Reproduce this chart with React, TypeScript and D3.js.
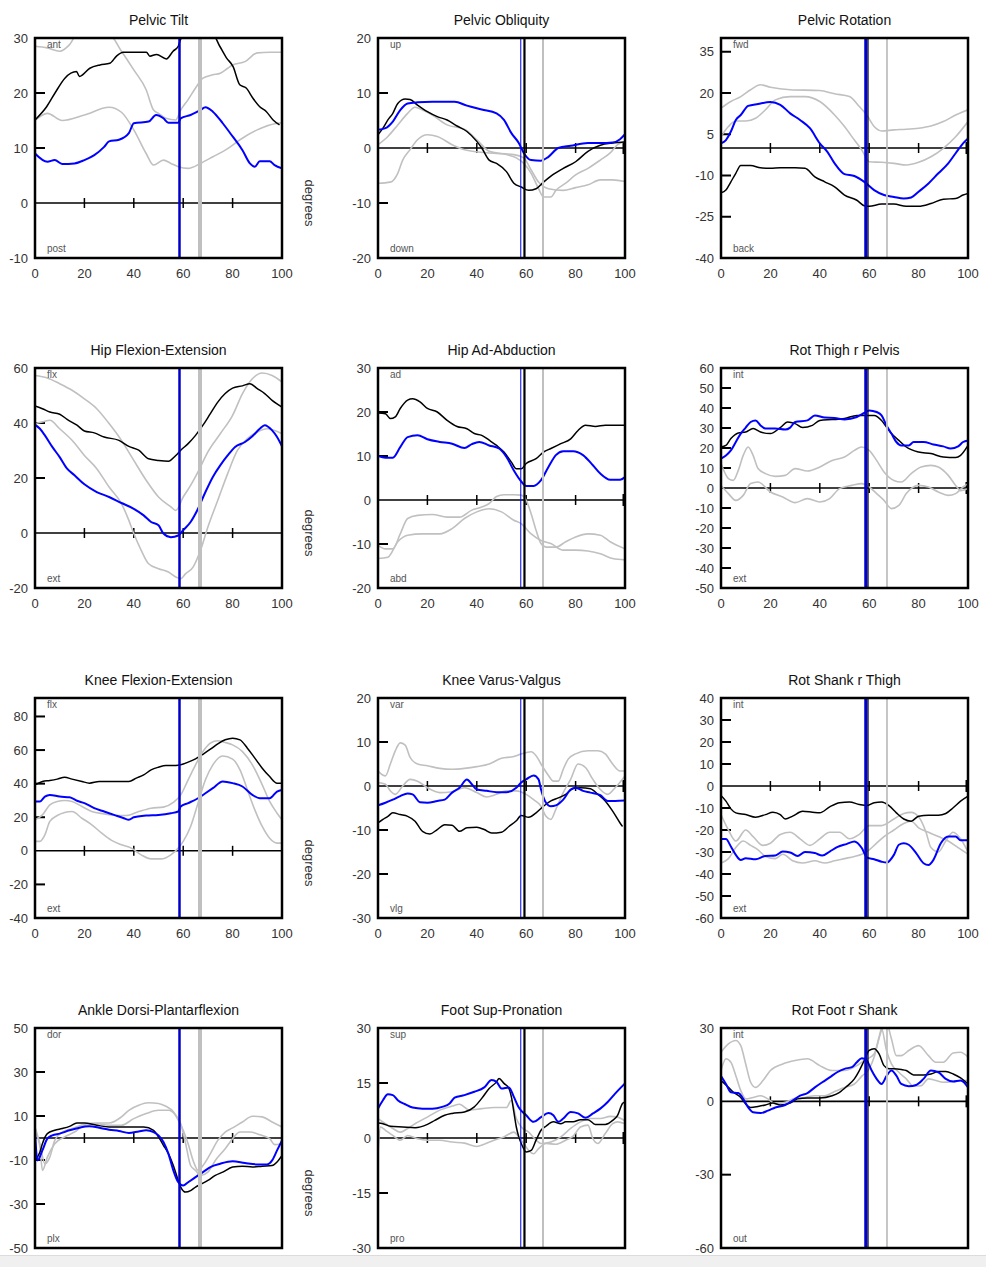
import React, { useRef, useEffect } from 'react';
import * as d3 from 'd3';

type Pt = [number, number];

// black = left side, blue = right side, two gray curves = normal band
const pelvicTiltL: Pt[] = [[0,15.1],[4.7,17.5],[8.1,20],[12.1,22.7],[16.8,23.9],[18,23],[22.2,24.5],[26.3,25.1],[30.3,25.4],[33,26.7],[35.7,27.4],[45.1,27.4],[46.5,26.7],[49.2,27],[53.2,26.2],[55.9,27.6],[58,28.5],[59,29.8],[61,30.6],[72,30.6],[74.8,28.5],[77.5,26.4],[80.2,24.8],[82.9,21.5],[85.5,20.9],[88.3,19],[91,17.5],[93.7,16.6],[96.4,15.1],[99,14.2]];
const pelvicTiltR: Pt[] = [[0,9],[5,7.5],[8,7.8],[11,7.1],[16,7.2],[20,7.8],[24,8.7],[28,10.2],[30,11.2],[34,11.5],[38,12.7],[40,14.5],[46,14.8],[49,16],[52,15.4],[54,14.6],[58,14.6],[59,15.4],[63,16],[67,16.9],[69,17.4],[72,16.6],[76,14.5],[80,12.1],[84,9.6],[87,7.2],[89,6.6],[91,7.6],[95,7.6],[97,6.9],[100,6.3]];
const pelvicTiltNormHi: Pt[] = [[0,28.5],[5,28.2],[10,27.6],[14,28.8],[17,30.6],[30,30.6],[35,27.6],[40,24.2],[45,20.6],[48,16.9],[50,16.3],[53,15.4],[57,15.1],[59,16.9],[62,18.8],[65,20.9],[68,22.7],[72,23.3],[75,23.6],[78,24.5],[80,25.1],[85,25.7],[90,27.3],[95,27.4],[100,27.4]];
const pelvicTiltNormLo: Pt[] = [[0,15],[5,16.3],[11,15],[20,16],[30,17.4],[35,16.5],[40,13.3],[45,9],[48,6.9],[52,7.8],[55,7.2],[58,6.6],[62,6.3],[67,7.2],[72,8.4],[78,9.9],[83,11.5],[90,13.3],[95,14.2],[100,14.6]];

const obliquityL: Pt[] = [[0,2.4],[2,3.6],[4,5.1],[6,6.3],[8,8.1],[11,8.9],[13,8.8],[16,7.8],[20,6.6],[24,5.7],[28,5.1],[32,4],[36,3],[40,1.2],[42,0],[45,-2.2],[48,-2.8],[52,-4.3],[55,-6.4],[58,-7.1],[61,-7.7],[64,-7.4],[67,-6.2],[70,-5.1],[75,-3.7],[80,-2.5],[85,-0.6],[90,0.5],[95,0.9],[100,1.1]];
const obliquityR: Pt[] = [[0,3.3],[3,3.6],[6,4.8],[9,6.9],[12,8.1],[16,8.3],[22,8.4],[31,8.4],[36,7.7],[42,7],[48,6.3],[51,5.1],[54,2.7],[57,0.9],[59,-0.9],[62,-2.2],[66,-2.3],[69,-1.6],[73,0],[78,0.4],[85,0.9],[90,0.9],[95,1],[98,1.6],[100,2.5]];
const obliquityNormHi: Pt[] = [[0,0.6],[4,2.1],[8,4.2],[12,6.3],[15,7.4],[18,6.9],[22,6],[28,4.2],[35,3.4],[40,1.5],[45,-0.6],[52,-1.2],[56,-1.8],[59,-2.8],[62,-4.6],[65,-7.4],[67,-8.9],[70,-8.9],[72,-7.7],[76,-6.4],[80,-4.9],[85,-3.7],[90,-2.2],[94,-0.9],[97,0.6],[100,1.2]];
const obliquityNormLo: Pt[] = [[0,-6.4],[5,-6.2],[8,-4.6],[10,-2.2],[13,-0.3],[16,1.5],[20,2.4],[24,2.1],[30,0.6],[35,-0.3],[45,-0.9],[55,-1.2],[59,-1.8],[62,-4],[65,-6.2],[69,-7.4],[75,-7.7],[80,-7.2],[85,-6.7],[90,-5.8],[95,-5.8],[100,-6.1]];

const rotationL: Pt[] = [[0,-16.3],[2,-15.3],[4,-12.3],[6,-9.2],[8,-6.4],[12,-6.4],[16,-7.2],[20,-7.4],[24,-7.2],[30,-7.2],[34,-7.4],[38,-10.5],[42,-12.3],[46,-14.1],[50,-17.1],[55,-19],[58,-21],[60,-21.2],[65,-20.4],[70,-20.4],[75,-21.2],[80,-21.2],[85,-20.2],[90,-18.6],[95,-18.4],[98,-17.1],[100,-16.5]];
const rotationR: Pt[] = [[0,1.7],[2,2.9],[4,6],[6,10.2],[8,12],[11,15.3],[15,16],[20,16.7],[24,15.7],[28,12.6],[32,10.2],[36,7.2],[40,1.7],[43,-1.3],[46,-5.6],[50,-9.5],[54,-10.2],[58,-12.3],[62,-15.3],[66,-17.1],[70,-17.8],[74,-18.4],[77,-18],[80,-15.9],[84,-12.9],[88,-9.2],[92,-5.6],[95,-1.9],[98,1.7],[100,3.5]];
const rotationNormHi: Pt[] = [[0,14.5],[4,16.9],[8,18.7],[12,21.2],[16,23],[20,22.1],[28,21.2],[40,20.9],[46,19.7],[52,18.7],[56,15.1],[59,12],[62,7.8],[65,6.2],[70,6.6],[75,6.8],[80,7.2],[85,8],[90,9.6],[95,12],[100,13.9]];
const rotationNormLo: Pt[] = [[0,4.1],[3,7.8],[6,9.8],[10,9.8],[14,10.8],[18,13.9],[22,17.5],[28,18.7],[34,18.7],[40,16.9],[46,12],[50,7.8],[54,2.9],[57,-0.7],[60,-5],[65,-5.2],[70,-5.6],[75,-6.2],[80,-5.2],[85,-3.2],[90,-0.1],[95,4.1],[100,9.6]];

const hipFlexL: Pt[] = [[0,46.2],[3,45.2],[6,44],[10,43.2],[13,41.3],[17,39.2],[20,37.1],[24,36.4],[28,34.9],[34,33.7],[38,31.5],[42,30.1],[46,27],[50,26.4],[54,26.1],[57,28.2],[59,30.1],[62,32.5],[65,35.5],[68,39.2],[71,43.4],[74,47.6],[77,50.7],[80,52.7],[84,53.5],[87,54.3],[90,52.5],[93,50.7],[96,48.2],[100,45.8]];
const hipFlexR: Pt[] = [[0,39.4],[2,37.9],[4,35.5],[7,31.3],[10,27.6],[13,23.4],[16,21],[20,17.7],[25,14.9],[30,13.1],[35,10.9],[40,8.8],[44,6.4],[47,4],[50,2.8],[52,-0.2],[55,-1.5],[58,-0.9],[60,1],[63,4],[66,8.8],[69,14.9],[72,20.4],[75,24.6],[78,28.2],[81,31.3],[85,33.1],[88,35.2],[91,37.9],[93,39.2],[96,37.3],[98,34.9],[100,31.5]];
const hipFlexNormHi: Pt[] = [[0,57.3],[5,56.4],[10,54.3],[15,51.9],[20,48.8],[25,45.2],[30,39.8],[35,33.7],[40,26.4],[45,19.2],[50,13.1],[55,9.5],[57,8.2],[60,13.1],[63,17.3],[66,22.2],[70,29.5],[75,36.1],[80,42.8],[84,50.7],[88,56.1],[92,58.2],[96,57.3],[100,54.9]];
const hipFlexNormLo: Pt[] = [[0,39.8],[3,40.4],[6,41],[10,37.9],[15,33.7],[20,28.2],[25,23.4],[30,16.7],[35,10.7],[38,4.6],[40,-0.2],[43,-6.3],[46,-11.2],[50,-13],[54,-14.2],[57,-16],[59,-16.6],[61,-14.8],[64,-12.4],[67,-6.3],[70,2.2],[74,11.9],[78,21.6],[82,30.1],[86,34.3],[90,36.7],[94,37.9],[100,36.1]];

const hipAbdL: Pt[] = [[0,19.8],[3,19.6],[5,18.5],[7,18.9],[9,20.8],[12,22.7],[14,23],[17,22.3],[20,20.8],[24,20],[28,18.1],[32,16.7],[36,16.2],[39,15.1],[42,14.7],[45,13.6],[48,12.4],[51,10.9],[54,8.6],[56,7.1],[58,7.1],[60,8.3],[64,9.4],[67,10.9],[70,11.7],[74,12.8],[78,13.9],[81,15.8],[84,17],[88,16.7],[92,17],[100,17]];
const hipAbdR: Pt[] = [[0,10],[3,9.6],[6,9.6],[9,12],[12,14.3],[16,14.7],[20,13.8],[25,13.2],[30,12.8],[35,11.8],[38,12.7],[41,13.2],[45,12.4],[49,11.7],[52,9.8],[55,6.7],[58,4.2],[60,3.2],[63,3.2],[66,4.5],[69,7.5],[72,10.2],[75,11.1],[79,11.1],[83,10.2],[87,7.9],[90,6],[94,4.6],[98,4.6],[100,5.2]];
const hipAbdNormHi: Pt[] = [[0,-10.3],[3,-11.1],[6,-11.1],[9,-7.7],[12,-4.2],[16,-3.5],[22,-3.3],[28,-3.9],[33,-3.9],[38,-2.3],[42,-1.6],[45,-0.8],[48,0.8],[51,1.2],[55,1.2],[58,1.1],[60,-0.1],[62,-3.1],[64,-6.9],[66,-9.9],[68,-10.7],[72,-10.7],[76,-9.5],[80,-8.4],[85,-7.7],[90,-8],[94,-9.5],[100,-11.1]];
const hipAbdNormLo: Pt[] = [[0,-13.3],[4,-13],[8,-9.5],[12,-8],[18,-7.7],[25,-7.7],[30,-6.5],[35,-4.2],[40,-2.7],[45,-2],[50,-2.7],[55,-4.6],[58,-5.4],[62,-7.7],[66,-9.2],[70,-9.9],[75,-11.4],[80,-11.4],[85,-11.6],[90,-12.2],[95,-13.3],[100,-13.6]];

const thighRotL: Pt[] = [[0,20.5],[2,21.3],[4,24.7],[7,27.5],[10,28],[13,29.7],[16,28],[20,27.2],[24,30.2],[27,33],[30,32.2],[33,30.2],[37,31.3],[40,33.8],[45,34.2],[50,34.7],[55,36.3],[58,36.3],[62,36.3],[65,33.8],[67,30.5],[69,27.2],[72,23.8],[75,20.5],[80,18],[85,17.2],[90,15.5],[95,15.2],[97,16.3],[100,21.3]];
const thighRotR: Pt[] = [[0,14.7],[2,16.3],[4,18.8],[6,23],[8,27.2],[10,30.2],[12,33],[14,33.8],[16,31.3],[18,29.7],[22,29.7],[26,29.2],[28,30.2],[30,33],[35,33.8],[38,36.3],[42,35.2],[46,35],[50,34.3],[55,35.5],[58,37.5],[60,38.8],[63,38],[65,36.3],[67,31.3],[69,27.2],[71,23],[73,21.3],[76,21.3],[78,23],[82,23],[86,21.8],[90,20.8],[93,19.7],[96,20.8],[98,23],[100,23.8]];
const thighRotNormHi: Pt[] = [[0,12.2],[3,4.7],[5,3.8],[7,8.8],[9,16.3],[11,20.5],[13,16.3],[15,9.7],[18,7.2],[22,5.8],[26,6.3],[30,9.7],[35,8.5],[40,10.5],[45,13.8],[50,15.5],[54,18.8],[57,20.5],[60,18.8],[63,13.8],[66,8],[70,3.8],[73,3],[77,7.2],[81,10.5],[85,11.3],[88,10.5],[92,6.3],[95,1.3],[97,-1.3],[100,-0.3]];
const thighRotNormLo: Pt[] = [[0,1.3],[3,-2.8],[6,-6.2],[9,-3.7],[12,2.2],[15,3],[20,-2],[25,-4.5],[30,-7.3],[35,-5.3],[40,-7],[44,-5.3],[48,-0.3],[53,1.3],[57,2.2],[60,0.5],[63,-2.8],[66,-6.2],[69,-10.3],[72,-8.7],[75,-2.8],[80,1.3],[84,0.5],[88,-2],[92,-3.7],[95,-2.8],[98,0.5],[100,2.2]];

const kneeFlexL: Pt[] = [[0,39.3],[3,41.3],[6,41.9],[9,42.7],[12,43.8],[15,42.7],[19,41.3],[22,40.3],[26,41.3],[30,41.3],[38,41.3],[41,43.3],[44,45.2],[47,48.2],[50,49.8],[53,50.8],[57,50.8],[59,51.2],[62,52.8],[65,54.8],[68,57.5],[71,60.5],[74,63.7],[77,66.1],[80,67.1],[83,66.1],[86,61.1],[89,55.2],[92,49.2],[95,44.2],[98,40.3],[100,40.3]];
const kneeFlexR: Pt[] = [[0,29.4],[2,29.4],[4,32.3],[6,33.3],[10,32.3],[14,31.9],[17,29.8],[20,28.4],[24,25.4],[28,23.4],[32,21.4],[36,19.4],[38,18.5],[40,20],[45,21],[50,21.4],[55,22.4],[58,23.4],[59,26.4],[62,28.4],[66,31.3],[69,34.3],[72,37.3],[76,41.3],[80,40.3],[84,38.3],[88,33.3],[91,31.3],[95,31.3],[98,35.3],[100,36.3]];
const kneeFlexNormHi: Pt[] = [[0,18.5],[3,21.4],[6,27.4],[9,29.4],[12,30],[15,29.4],[19,26.4],[23,23.4],[28,22],[33,21],[37,21],[42,23.4],[47,25.4],[52,26],[56,28.8],[59,33.3],[62,42.3],[65,51.2],[68,59.1],[71,64.1],[74,65.5],[77,64.5],[80,63.1],[84,59.1],[88,51.2],[92,39.3],[95,29.4],[98,22.4],[100,18.5]];
const kneeFlexNormLo: Pt[] = [[0,5.6],[2,5.6],[4,9.5],[6,17.5],[9,21],[12,22.8],[15,23.4],[19,19.4],[23,15.5],[27,10.5],[31,6.2],[35,3.6],[39,1.6],[43,-2.4],[47,-4.8],[51,-4.8],[55,-2.4],[58,1.6],[60,5.6],[63,14.5],[66,28.4],[69,42.3],[72,51.2],[76,56.5],[80,54.6],[83,48.2],[86,36.3],[89,24.4],[92,14.5],[95,7.5],[98,4.6],[100,4.6]];

const varusL: Pt[] = [[0,-8.4],[2,-7.6],[4,-6.9],[6,-6.1],[9,-6.5],[12,-6.9],[15,-8],[18,-10.3],[21,-10.9],[24,-9.9],[27,-8.8],[30,-8.9],[33,-10.3],[36,-9.5],[40,-9.4],[43,-9.9],[46,-10.7],[50,-10.5],[53,-9.2],[56,-7.9],[58,-6.7],[61,-7.1],[64,-6.1],[67,-4.6],[70,-3.4],[73,-2.7],[76,-1.9],[79,-0.6],[82,-0.4],[86,-0.6],[89,-1.9],[92,-3.4],[95,-5.7],[98,-8.4],[99,-9.2]];
const varusR: Pt[] = [[0,-4.4],[3,-3.8],[6,-3.1],[9,-2.3],[12,-1.7],[14,-1.9],[17,-3.7],[20,-3.8],[24,-3.4],[27,-3.1],[30,-1.5],[33,-0.4],[36,1.5],[38,0.4],[40,-0.8],[44,-1.1],[48,-1.4],[52,-1.4],[56,-0.4],[58,0.8],[60,1.5],[63,2.4],[65,1.5],[66,-0.8],[68,-3.8],[70,-4.6],[72,-4.4],[75,-3.1],[78,-0.8],[80,-0.4],[83,-1.1],[86,-1.5],[90,-2.1],[93,-3.4],[96,-3.4],[100,-3.3]];
const varusNormHi: Pt[] = [[0,3.4],[3,2.3],[5,5],[7,8],[9,9.8],[11,9.3],[13,6.5],[16,5],[20,4.6],[25,4],[30,3.8],[35,4],[40,4.4],[45,5],[50,6.3],[55,6.7],[58,7.3],[62,7.8],[64,6.9],[66,5],[69,2.4],[71,1.1],[73,1.1],[75,3.8],[77,6.1],[80,7.3],[85,8],[89,8],[92,7.3],[95,5],[98,3.4],[100,3.4]];
const varusNormLo: Pt[] = [[0,0.8],[3,0.4],[5,-1.1],[7,-1.9],[10,0],[13,1.5],[16,1.1],[20,-0.4],[25,-1.5],[30,-1.3],[35,-0.4],[40,-1.5],[44,-2.5],[48,-1.9],[52,-1.1],[56,-1.1],[60,-1.9],[63,-3.1],[66,-4.6],[68,-6.9],[70,-7.6],[72,-5.3],[75,-1.5],[78,1.5],[81,5],[84,4.2],[87,1.5],[90,-0.8],[93,-1.9],[96,-0.4],[100,2.3]];

const shankRotL: Pt[] = [[0,-4.3],[2,-6.9],[4,-10.4],[6,-12.2],[10,-13],[14,-14.2],[18,-13],[21,-11.9],[24,-13],[26,-15],[29,-13.7],[33,-11.5],[37,-11.9],[40,-12.2],[44,-9.5],[48,-7.6],[52,-7.3],[56,-8.4],[59,-8.9],[62,-7.6],[65,-7.3],[68,-8.9],[71,-12.2],[74,-15],[77,-16],[80,-13.7],[84,-13.3],[88,-13.3],[91,-12.5],[94,-9.9],[97,-6.9],[100,-4.6]];
const shankRotR: Pt[] = [[0,-24.1],[2,-24.1],[4,-27.5],[6,-31.3],[8,-33.6],[10,-32.8],[14,-33.3],[18,-31.8],[22,-31.6],[25,-29.8],[28,-30.2],[31,-31.8],[34,-30],[38,-30.5],[41,-31.6],[44,-29.8],[47,-27.8],[51,-26.3],[54,-25.2],[57,-28.2],[59,-32.4],[62,-33.3],[65,-34.4],[67,-34.8],[70,-31.3],[72,-26.7],[74,-26],[76,-26.7],[79,-30.5],[82,-35.1],[84,-35.9],[86,-33.6],[89,-26],[92,-22.9],[95,-22.9],[97,-24.7],[100,-24.7]];
const shankRotNormHi: Pt[] = [[0,-13],[3,-20],[6,-25],[10,-20],[13,-23],[17,-27],[20,-26],[24,-22],[28,-21],[32,-24],[36,-27],[40,-24],[44,-21],[48,-21],[52,-24],[56,-22],[60,-18],[65,-18],[70,-15],[74,-12.5],[77,-12],[80,-14],[83,-21],[85,-28],[88,-30],[91,-25],[94,-21],[97,-24],[100,-30]];
const shankRotNormLo: Pt[] = [[0,-35],[3,-33],[6,-28],[9,-25],[12,-27],[15,-29],[18,-32],[22,-33],[25,-31],[29,-34],[33,-35],[38,-34],[42,-35],[46,-34],[50,-33],[54,-32],[57,-31],[60,-29],[63,-26],[66,-23],[70,-20],[74,-17],[77,-16],[80,-19],[84,-21],[88,-23],[92,-25],[96,-28],[100,-31]];

const ankleL: Pt[] = [[0,-10.2],[2,-6.4],[3,-2.6],[5,2],[8,3.5],[11,4.3],[14,5.3],[17,6.8],[20,6.8],[25,5.8],[30,5],[44,5],[48,3.5],[50,0.5],[52,-3.3],[54,-7.1],[56,-12.5],[58,-19.3],[59,-22.3],[61,-24.6],[63,-23.9],[65,-22.3],[67,-21.1],[70,-19.3],[73,-17],[76,-15.5],[80,-13.2],[84,-12.8],[88,-13.2],[92,-12.8],[96,-12.5],[98,-10.9],[100,-7.9]];
const ankleR: Pt[] = [[0,2.7],[1,-10.2],[3,-5.6],[5,-0.3],[7,1.2],[10,2],[14,3.5],[18,4.7],[22,5.3],[26,4.7],[30,3.8],[34,3.2],[38,2.3],[42,3],[45,3.5],[48,2.7],[50,1.2],[52,-1.8],[54,-7.1],[56,-14.7],[58,-20.1],[60,-21.6],[62,-20.1],[65,-17.8],[68,-15.5],[71,-13.2],[75,-11.7],[80,-10.6],[85,-11.4],[90,-12],[94,-12],[96,-10.2],[98,-5.6],[100,-1.1]];
const ankleNormHi: Pt[] = [[0,5],[2,-2.6],[4,-11.7],[6,-8.7],[8,-1.1],[11,2.7],[15,4.3],[20,6.2],[25,6.8],[30,6.8],[35,9.6],[38,12.6],[42,14.9],[46,16],[50,15.7],[53,14.4],[56,11.9],[58,8.1],[60,3.5],[62,-2.6],[64,-10.2],[66,-14.7],[68,-12.5],[71,-7.1],[74,-1.1],[77,2.7],[80,4.6],[84,7.3],[88,9.9],[92,9.6],[96,7.3],[100,5]];
const ankleNormLo: Pt[] = [[0,2.7],[2,-4.1],[3,-14.7],[5,-8.7],[8,-2.6],[12,0.5],[16,2.7],[20,5.8],[25,6.5],[30,5.8],[35,5.8],[40,8.8],[45,11.1],[50,12.6],[54,12.6],[57,10.3],[59,6.5],[61,-2.6],[63,-12.5],[65,-14.7],[67,-17],[70,-15.5],[73,-10.2],[77,-4.9],[80,-0.3],[83,2.7],[87,2.7],[91,1.5],[95,-0.3],[97,-3],[100,-2.6]];

const footSupL: Pt[] = [[0,4.1],[2,3.9],[5,3.2],[10,3],[15,2.8],[20,3.7],[23,4.8],[27,6.2],[30,6.7],[35,7.1],[39,8.5],[42,10.8],[45,13.5],[48,15.3],[49,16.2],[51,14.9],[53,13.5],[54,11.2],[55,7.1],[56,3],[57,0.3],[58,-1.5],[60,-3.8],[62,-3.4],[64,-0.6],[66,2.1],[68,3.2],[71,4.4],[74,3.9],[76,4.4],[79,4.4],[82,5],[85,5],[88,3.7],[92,3.7],[95,4.8],[97,6.2],[99,9.4],[100,9.8]];
const footSupR: Pt[] = [[0,8],[2,10.3],[4,11.9],[6,11.7],[8,10.3],[11,9.2],[14,8.3],[18,8],[22,8],[26,8.5],[29,9.4],[31,11],[35,11.7],[39,12.6],[43,13.8],[46,15.8],[48,15.3],[50,13.5],[53,13.8],[55,11.2],[57,8.3],[60,6.2],[63,4.4],[66,5.7],[69,6.8],[71,6.2],[73,4.4],[75,5.3],[78,7.1],[81,6.7],[84,5.5],[87,6.7],[90,8],[93,9.8],[96,12.1],[100,14.9]];
const footSupNormHi: Pt[] = [[0,5.3],[3,3.9],[6,2.6],[9,1.6],[12,2.6],[15,3.9],[20,5.7],[25,7.6],[30,8.7],[33,9.2],[37,7.6],[42,8],[47,8.3],[52,8.3],[54,10.3],[56,5.3],[58,3],[61,1.6],[64,-0.6],[66,-1.5],[70,-1.1],[74,0.3],[78,2.6],[82,4.4],[86,5.3],[90,5.3],[94,5.9],[97,5.7],[100,4.6]];
const footSupNormLo: Pt[] = [[0,-4.3],[1,3],[3,2.1],[6,0.7],[9,-0.6],[12,0.7],[16,-0.2],[20,-0.6],[25,-0.6],[30,-1.1],[35,-1.4],[40,-2.3],[43,-1.7],[47,-0.6],[51,0.3],[55,1.6],[57,0.3],[59,-1.5],[61,-3.4],[63,-4.3],[65,-2.9],[68,-1.5],[72,-1.7],[76,-0.6],[79,0.5],[82,3],[85,3.5],[87,-0.2],[89,-1.5],[92,1.2],[95,3.9],[97,4.4],[100,3.9]];

const footRotL: Pt[] = [[0,8.5],[3,5.7],[5,3.7],[8,1.6],[10,-1.1],[12,-2.5],[15,-2.1],[18,-1.5],[21,-0.7],[24,-1.5],[28,-0.7],[31,1],[35,1.4],[40,1.4],[45,2.3],[48,3.7],[51,6.2],[54,9.2],[56,12.6],[58,16.7],[60,20.8],[62,21.5],[64,19.4],[66,14.6],[68,13.3],[70,13.3],[73,13],[75,12.6],[78,10.8],[82,10.8],[85,11.2],[88,12.2],[91,12.2],[94,11.2],[97,9.6],[100,7.1]];
const footRotR: Pt[] = [[0,10.3],[2,7.1],[4,3.7],[7,3.4],[9,1],[11,-2.5],[13,-4.5],[16,-4.8],[19,-3.8],[22,-2.5],[26,-1.5],[29,0.3],[32,2.3],[35,3.4],[38,5.7],[41,7.8],[44,9.8],[47,11.9],[50,13.3],[53,14],[55,16],[57,17.6],[59,16.7],[61,12.6],[63,9.2],[65,7.1],[67,10.3],[69,12.6],[71,10.5],[73,7.1],[76,6.2],[79,6.7],[82,9.2],[85,12.6],[88,11.9],[91,9.2],[94,8.1],[97,8.5],[100,5.7]];
const footRotNormHi: Pt[] = [[0,20.1],[3,23.5],[6,24.9],[8,22.8],[10,15.3],[12,7.8],[14,5.7],[17,8.5],[20,12.6],[25,15.3],[30,16.7],[35,17.4],[40,14.6],[45,12.6],[50,12.6],[55,14.6],[58,16.7],[62,19.4],[65,29],[67,32],[69,25.6],[71,18.7],[73,18.7],[76,20.8],[80,22.8],[84,18.7],[87,16],[90,16],[94,19.8],[97,20.1],[100,18.1]];
const footRotNormLo: Pt[] = [[0,12.6],[2,17.4],[4,16],[6,10.5],[8,4.4],[10,1],[13,1.6],[16,2.3],[19,1],[22,-1.1],[26,-0.4],[30,1.2],[34,1.6],[38,2.3],[42,2.3],[46,4],[50,5.7],[54,7.1],[57,10.3],[60,13.3],[62,18.1],[64,26.3],[65,29.7],[67,20.8],[69,15.3],[72,11.9],[75,9.2],[78,6.2],[81,6.4],[84,9.2],[87,8.5],[90,7.8],[94,8.1],[97,8.5],[100,8.5]];

const titles = ['Pelvic Tilt', 'Pelvic Obliquity', 'Pelvic Rotation', 'Hip Flexion-Extension', 'Hip Ad-Abduction', 'Rot Thigh r Pelvis', 'Knee Flexion-Extension', 'Knee Varus-Valgus', 'Rot Shank r Thigh', 'Ankle Dorsi-Plantarflexion', 'Foot Sup-Pronation', 'Rot Foot r Shank'];
const yDomains: [number, number][] = [[-10, 30], [-20, 20], [-40, 40], [-20, 60], [-20, 30], [-50, 60], [-40, 91], [-30, 20], [-60, 40], [-50, 50], [-30, 30], [-60, 30]];
const yTickValues: number[][] = [
  [-10, 0, 10, 20, 30], [-20, -10, 0, 10, 20], [-40, -25, -10, 5, 20, 35],
  [-20, 0, 20, 40, 60], [-20, -10, 0, 10, 20, 30], [-50, -40, -30, -20, -10, 0, 10, 20, 30, 40, 50, 60],
  [-40, -20, 0, 20, 40, 60, 80], [-30, -20, -10, 0, 10, 20], [-60, -50, -40, -30, -20, -10, 0, 10, 20, 30, 40],
  [-50, -30, -10, 10, 30, 50], [-30, -15, 0, 15, 30], [-60, -30, 0, 30],
];
const topLabels = ['ant', 'up', 'fwd', 'flx', 'ad', 'int', 'flx', 'var', 'int', 'dor', 'sup', 'int'];
const bottomLabels = ['post', 'down', 'back', 'ext', 'abd', 'ext', 'ext', 'vlg', 'ext', 'plx', 'pro', 'out'];
const xTickValues = [0, 20, 40, 60, 80, 100];
const leftCurves = [pelvicTiltL, obliquityL, rotationL, hipFlexL, hipAbdL, thighRotL, kneeFlexL, varusL, shankRotL, ankleL, footSupL, footRotL];
const rightCurves = [pelvicTiltR, obliquityR, rotationR, hipFlexR, hipAbdR, thighRotR, kneeFlexR, varusR, shankRotR, ankleR, footSupR, footRotR];
const normHi = [pelvicTiltNormHi, obliquityNormHi, rotationNormHi, hipFlexNormHi, hipAbdNormHi, thighRotNormHi, kneeFlexNormHi, varusNormHi, shankRotNormHi, ankleNormHi, footSupNormHi, footRotNormHi];
const normLo = [pelvicTiltNormLo, obliquityNormLo, rotationNormLo, hipFlexNormLo, hipAbdNormLo, thighRotNormLo, kneeFlexNormLo, varusNormLo, shankRotNormLo, ankleNormLo, footSupNormLo, footRotNormLo];

// gait events (% cycle) per column: right toe-off, left toe-off, normal toe-off
const blueEvent = [58.5, 57.8, 58.6];
const blackEvent = [null, 59.3, 59.5];
const grayEvent = [66.8, 66.8, 67.2];

const FONT = '"Liberation Sans", Arial, sans-serif';

const App: React.FC = () => {
  const svgRef = useRef<SVGSVGElement | null>(null);

  useEffect(() => {
    if (!svgRef.current) return;
    const svg = d3.select(svgRef.current);
    svg.selectAll('*').remove();

    const lefts = [35, 378, 721];
    const tops = [38, 368, 698, 1028];
    const w = 247;
    const h = 220;

    titles.forEach((title, i) => {
      const col = i % 3;
      const row = Math.floor(i / 3);
      const g = svg.append('g').attr('transform', `translate(${lefts[col]},${tops[row]})`);

      const x = d3.scaleLinear().domain([0, 100]).range([0, w]);
      const y = d3.scaleLinear().domain(yDomains[i]).range([h, 0]);

      g.append('clipPath').attr('id', `clip-${i}`)
        .append('rect').attr('width', w).attr('height', h);

      const plot = g.append('g').attr('clip-path', `url(#clip-${i})`);

      const line = d3.line<Pt>()
        .x(d => x(d[0]))
        .y(d => y(d[1]))
        .curve(d3.curveMonotoneX);

      // zero line with ticks
      plot.append('line')
        .attr('x1', 0).attr('x2', w).attr('y1', y(0)).attr('y2', y(0))
        .attr('stroke', '#000').attr('stroke-width', 1.6);
      [20, 40, 60, 80].forEach(t => {
        plot.append('line')
          .attr('x1', x(t)).attr('x2', x(t)).attr('y1', y(0) - 5).attr('y2', y(0) + 5)
          .attr('stroke', '#000').attr('stroke-width', 1.5);
      });
      if (col > 0) {
        plot.append('line')
          .attr('x1', x(100) - 1).attr('x2', x(100) - 1).attr('y1', y(0) - 6).attr('y2', y(0) + 6)
          .attr('stroke', '#000').attr('stroke-width', 3);
      }

      // y ticks inside frame
      yTickValues[i].forEach(t => {
        if (t === 0) return;
        plot.append('line')
          .attr('x1', 0).attr('x2', 10).attr('y1', y(t)).attr('y2', y(t))
          .attr('stroke', '#000').attr('stroke-width', 2);
      });

      const curves: [Pt[], string, number][] = [
        [normHi[i], '#c0c0c0', 1.6],
        [normLo[i], '#c0c0c0', 1.6],
        [leftCurves[i], '#000000', 1.5],
        [rightCurves[i], '#0000ff', 2],
      ];
      curves.forEach(([data, color, sw]) => {
        plot.append('path')
          .datum(data)
          .attr('d', line)
          .attr('fill', 'none')
          .attr('stroke', color)
          .attr('stroke-width', sw);
      });

      // event lines
      if (col === 0) {
        plot.append('line').attr('x1', x(grayEvent[col])).attr('x2', x(grayEvent[col]))
          .attr('y1', 0).attr('y2', h).attr('stroke', '#c0c0c0').attr('stroke-width', 4);
        plot.append('line').attr('x1', x(blueEvent[col])).attr('x2', x(blueEvent[col]))
          .attr('y1', 0).attr('y2', h).attr('stroke', '#0000c8').attr('stroke-width', 2.5);
      } else if (col === 1) {
        plot.append('line').attr('x1', x(grayEvent[col])).attr('x2', x(grayEvent[col]))
          .attr('y1', 0).attr('y2', h).attr('stroke', '#c0c0c0').attr('stroke-width', 2);
        plot.append('line').attr('x1', x(blueEvent[col])).attr('x2', x(blueEvent[col]))
          .attr('y1', 0).attr('y2', h).attr('stroke', '#0000ff').attr('stroke-width', 1);
        plot.append('line').attr('x1', x(blackEvent[col]!)).attr('x2', x(blackEvent[col]!))
          .attr('y1', 0).attr('y2', h).attr('stroke', '#000').attr('stroke-width', 2.2);
      } else {
        plot.append('line').attr('x1', x(grayEvent[col])).attr('x2', x(grayEvent[col]))
          .attr('y1', 0).attr('y2', h).attr('stroke', '#c0c0c0').attr('stroke-width', 1.8);
        plot.append('line').attr('x1', x(blackEvent[col]!)).attr('x2', x(blackEvent[col]!))
          .attr('y1', 0).attr('y2', h).attr('stroke', '#000').attr('stroke-width', 1.3);
        plot.append('line').attr('x1', x(blueEvent[col])).attr('x2', x(blueEvent[col]))
          .attr('y1', 0).attr('y2', h).attr('stroke', '#0000d0').attr('stroke-width', 3);
      }

      // frame
      g.append('rect').attr('width', w).attr('height', h)
        .attr('fill', 'none').attr('stroke', '#000').attr('stroke-width', 2.5);

      // corner labels
      g.append('text').attr('x', 12).attr('y', 10).text(topLabels[i])
        .attr('font-family', FONT).attr('font-size', 10).attr('fill', '#555');
      g.append('text').attr('x', 12).attr('y', h - 6).text(bottomLabels[i])
        .attr('font-family', FONT).attr('font-size', 10).attr('fill', '#555');

      // y tick labels
      yTickValues[i].forEach(t => {
        g.append('text')
          .attr('x', -7).attr('y', y(t)).attr('dy', '0.35em')
          .attr('text-anchor', 'end')
          .attr('font-family', FONT).attr('font-size', 13).attr('fill', '#333')
          .text(t);
      });

      // x tick labels
      if (row < 3) {
        xTickValues.forEach(t => {
          g.append('text')
            .attr('x', x(t)).attr('y', h + 15).attr('dy', '0.35em')
            .attr('text-anchor', 'middle')
            .attr('font-family', FONT).attr('font-size', 13).attr('fill', '#333')
            .text(t);
        });
      }

      // title
      g.append('text')
        .attr('x', w / 2).attr('y', -18).attr('dy', '0.35em')
        .attr('text-anchor', 'middle')
        .attr('font-family', FONT).attr('font-size', 14).attr('fill', '#111')
        .text(title);

      if (col === 0) {
        g.append('text')
          .attr('transform', `translate(${w + 28},${165}) rotate(90)`)
          .attr('text-anchor', 'middle').attr('dy', '0.35em')
          .attr('font-family', FONT).attr('font-size', 13).attr('fill', '#333')
          .text('degrees');
      }
    });

    // status strip at page bottom
    svg.append('rect').attr('x', 0).attr('y', 1255).attr('width', 986).attr('height', 12).attr('fill', '#f0f0f0');
    svg.append('line').attr('x1', 0).attr('x2', 986).attr('y1', 1255.5).attr('y2', 1255.5).attr('stroke', '#dcdcdc');
  }, []);

  return (
    <svg
      ref={svgRef}
      width={1000}
      height={1274}
      style={{ position: 'absolute', left: 0, top: 0, background: '#fff' }}
    />
  );
};

export default App;
